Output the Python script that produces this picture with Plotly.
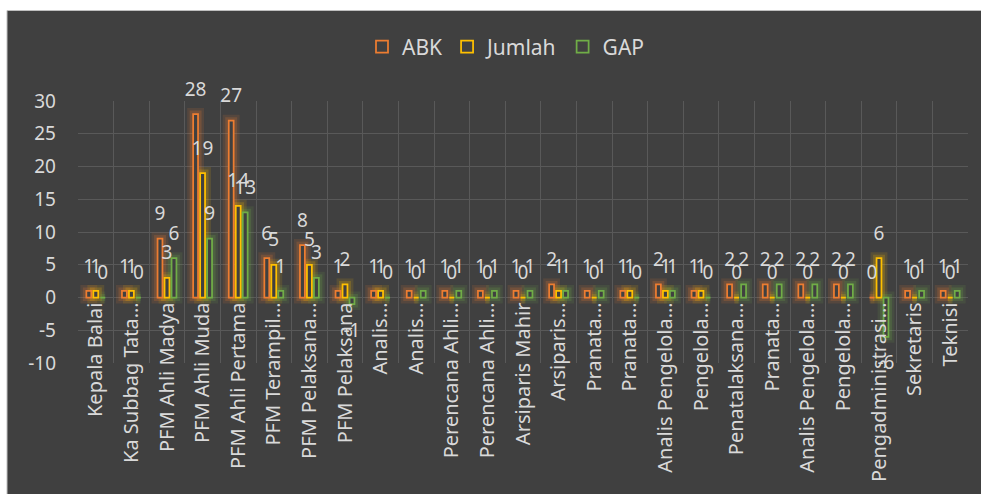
import plotly.graph_objects as go

# ---- data ----
categories = [
    "Kepala Balai", "Ka Subbag Tata…", "PFM Ahli Madya", "PFM Ahli Muda",
    "PFM Ahli Pertama", "PFM Terampil…", "PFM Pelaksana…", "PFM Pelaksana",
    "Analis…", "Analis…", "Perencana Ahli…", "Perencana Ahli…",
    "Arsiparis Mahir", "Arsiparis…", "Pranata…", "Pranata…",
    "Analis Pengelola…", "Pengelola…", "Penatalaksana…", "Pranata…",
    "Analis Pengelola…", "Pengelola…", "Pengadministrasi…", "Sekretaris", "Teknisi",
]
abk    = [1, 1, 9, 28, 27, 6, 8, 1, 1, 1, 1, 1, 1, 2, 1, 1, 2, 1, 2, 2, 2, 2, 0, 1, 1]
jumlah = [1, 1, 3, 19, 14, 5, 5, 2, 1, 0, 0, 0, 0, 1, 0, 1, 1, 1, 0, 0, 0, 0, 6, 0, 0]
gap    = [0, 0, 6, 9, 13, 1, 3, -1, 0, 1, 1, 1, 1, 1, 1, 0, 1, 0, 2, 2, 2, 2, -6, 1, 1]
series_names = ["ABK", "Jumlah", "GAP"]
series_values = [abk, jumlah, gap]
y_ticks = [-10, -5, 0, 5, 10, 15, 20, 25, 30]

# ---- styles ----
colors = ["#ED7D31", "#FFC000", "#70AD47"]
glow = ["rgba(237,125,49,{a})", "rgba(255,192,0,{a})", "rgba(112,173,71,{a})"]
BG = "#404040"
GRID = "#595959"
TXT = "#D9D9D9"
FONT = "Noto Sans"
W, H = 981, 494
ML, MR, MT = 78, 13, 101
MB = H - 363
LABEL_PAD = 1.9  # data units between bar end and its label

x = list(range(len(categories)))
fig = go.Figure()

# glow layers
for i, (name, vals) in enumerate(zip(series_names, series_values)):
    for width, alpha in [(12, 0.12), (7, 0.2)]:
        fig.add_trace(go.Bar(
            x=x, y=vals, offsetgroup=name, showlegend=False, hoverinfo="skip",
            marker=dict(color="rgba(0,0,0,0)",
                        line=dict(color=glow[i].format(a=alpha), width=width)),
        ))

# main hollow bars
for i, (name, vals) in enumerate(zip(series_names, series_values)):
    fig.add_trace(go.Bar(
        x=x, y=vals, name=name, offsetgroup=name,
        marker=dict(color=BG, line=dict(color=colors[i], width=1.75)),
    ))

# label carriers (invisible, extend past bar end so labels sit a bit away)
for i, (name, vals) in enumerate(zip(series_names, series_values)):
    fig.add_trace(go.Bar(
        x=x, base=vals,
        y=[LABEL_PAD if v >= 0 else -LABEL_PAD for v in vals],
        offsetgroup=name, showlegend=False, hoverinfo="skip",
        text=[str(v) for v in vals], textposition="outside",
        textangle=0, constraintext="none", cliponaxis=False,
        textfont=dict(family=FONT, size=19, color=TXT),
        marker=dict(color="rgba(0,0,0,0)", line=dict(width=0)),
    ))

ymin, ymax = min(y_ticks), max(y_ticks)
pw, ph = W - ML - MR, H - MT - MB
plot_bottom = H - MB  # figure px

fig.update_layout(
    width=W, height=H, autosize=False,
    margin=dict(l=ML, r=MR, t=MT, b=MB),
    paper_bgcolor="white", plot_bgcolor="rgba(0,0,0,0)",
    barmode="group", bargap=0.41, bargroupgap=0.3,
    font=dict(family=FONT, color=TXT, size=19),
    legend=dict(orientation="h", x=(506 - ML) / pw, xanchor="center",
                y=(plot_bottom - 47) / ph, yanchor="middle",
                font=dict(size=21, color=TXT), bgcolor="rgba(0,0,0,0)",
                traceorder="normal"),
    shapes=[dict(type="rect", xref="paper", yref="paper", layer="below",
                 x0=(7 - ML) / pw, x1=(W + 2 - ML) / pw,
                 y0=(plot_bottom - H - 2) / ph, y1=(plot_bottom - 10.5) / ph,
                 fillcolor=BG, line=dict(color="#BFBFBF", width=1))],
    showlegend=True,
)

fig.update_yaxes(
    range=[ymin, ymax], tickmode="array", tickvals=y_ticks,
    ticktext=[str(v) for v in y_ticks],
    showgrid=True, gridcolor=GRID, gridwidth=1,
    zeroline=False, showline=False, ticks="", ticklabelstandoff=21,
    tickfont=dict(family=FONT, size=19, color=TXT),
)
fig.update_xaxes(
    range=[-0.5, len(categories) - 0.5],
    tickmode="array", tickvals=x, ticktext=categories, tickangle=-90,
    showgrid=False, zeroline=False, showline=False, ticks="",
    anchor="free", position=(0 - ymin) / (ymax - ymin),
    tickfont=dict(family=FONT, size=20, color=TXT),
    minor=dict(tickmode="array", tickvals=[i - 0.5 for i in range(len(categories) + 1)],
               showgrid=True, gridcolor=GRID, gridwidth=1, ticks=""),
    automargin=False,
)

fig.write_html(
    "out.html",
    config={"displayModeBar": False},
    post_script="document.body.style.margin='0';document.body.style.overflow='hidden';",
)
